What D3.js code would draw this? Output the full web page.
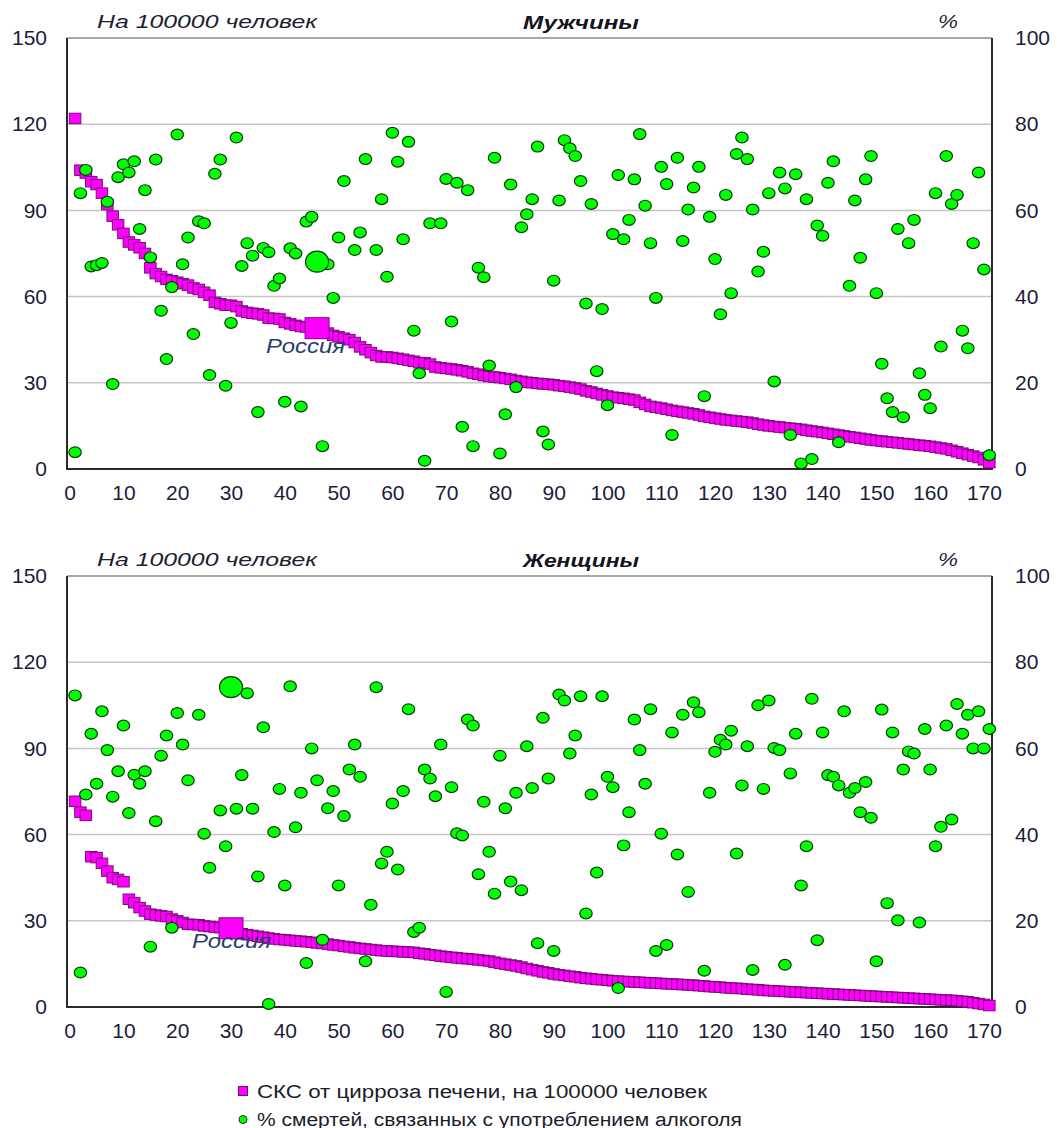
<!DOCTYPE html>
<meta charset="utf-8">
<script src="https://cdn.jsdelivr.net/npm/d3@7"></script>
<html>
<head>
<style>
body { margin: 0; background: #ffffff; }
text { font-family: Arial, "Liberation Sans", sans-serif; }
</style>
</head>
<body>
<div id="chart"></div>
<script>

// ранги стран 1..171, отсортированы по СКС
var ranks = d3.range(1, 172);

// Мужчины: СКС от цирроза печени, на 100000 человек
var menCirrhosis = [122,104,103,100,99,96,92,88,85,82,
  79,78,77,75,70,68,67,66,65.5,65,
  64.5,64,63,62.5,61.5,60.5,58,57.5,57,57,
  56.5,55,54.5,54.2,54,53.6,52.5,52.4,52.2,51,
  50.5,50,49.6,49.4,49.2,49,47.8,47.3,46.5,46,
  45.5,45,44,42.5,41.5,40.5,39.5,39,39,38.8,
  38.5,38.2,37.8,37.5,37,37,36.5,35.5,35.2,35,
  34.8,34.5,34.2,33.8,33.3,33,32.5,32.2,32,31.8,
  31.5,31.2,30.8,30.5,30.2,30,29.8,29.6,29.5,29.3,
  29,28.8,28.5,28.2,27.8,27.2,26.8,26.3,25.8,25.4,
  25,24.8,24.6,24.3,24,23.2,22.5,21.8,21.5,21.2,
  20.8,20.4,20.1,19.8,19.5,19.2,18.8,18.3,18,17.7,
  17.4,17.1,16.9,16.7,16.5,16.3,16,15.6,15.3,15,
  14.8,14.6,14.4,14.2,14,13.8,13.5,13.2,13,12.7,
  12.4,12.1,11.8,11.5,11.2,11,10.7,10.4,10.1,9.9,
  9.7,9.5,9.3,9.1,8.9,8.7,8.5,8.3,8.1,7.9,
  7.6,7.3,7,6.5,6,5.5,5,4.5,4,3.2,2.2];

// Мужчины: % смертей, связанных с употреблением алкоголя
var menAlcohol = [3.9,64,69.4,47,47.3,47.8,62,19.7,67.7,70.7,
  68.8,71.4,55.7,64.7,49.1,71.8,36.7,25.5,42.2,77.6,
  47.5,53.7,31.3,57.5,57,21.8,68.5,71.8,19.3,33.9,
  76.9,47.1,52.4,49.5,13.2,51.3,50.3,42.5,44.2,15.6,
  51.2,50,14.5,57.4,58.5,48.1,5.3,47.5,39.7,53.7,
  66.8,null,50.8,54.9,71.9,null,50.8,62.6,44.6,78,
  71.3,53.3,75.9,32.1,22.2,1.9,57,null,57,67.3,
  34.2,66.4,9.8,64.7,5.3,46.7,44.5,24,72.2,3.6,
  12.7,66,19,56.1,59.1,62.6,74.8,8.7,5.7,43.7,
  62.3,76.3,74.4,72.6,66.8,38.4,61.5,22.7,37.1,14.8,
  54.5,68.2,53.3,57.8,67.2,77.7,61.1,52.4,39.7,70.1,
  66.1,7.9,72.2,52.9,60.2,65.3,70.1,16.9,58.5,48.7,
  35.9,63.6,40.8,73.1,76.9,71.9,60.2,45.8,50.4,64,
  20.3,68.8,65.1,7.9,68.4,1.3,62.6,2.3,56.5,54.1,
  66.4,71.4,6.2,null,42.5,62.3,49,67.2,72.6,40.8,
  24.4,16.4,13.2,55.7,12,52.4,57.8,22.2,17.2,14.1,
  64,28.4,72.6,61.5,63.6,32.1,28,52.4,68.8,46.3,3.2];

// Женщины: СКС от цирроза печени, на 100000 человек
var womenCirrhosis = [71.6,67.8,66.7,52.3,52,50,47.3,45,44.4,43.6,
  37.5,36.3,34.6,33.4,32.3,32,31.7,31.5,30.6,30,
  29.4,28.8,28.7,28.6,28.2,28,27.8,27.6,27.5,27.4,
  25.8,25.5,25.2,24.9,24.6,24.3,24,23.7,23.5,23.4,
  23.2,23,22.9,22.7,22.5,22.3,22.1,21.9,21.6,21.4,
  21.1,20.9,20.6,20.4,20.2,20,19.8,19.6,19.5,19.4,
  19.3,19.2,19.1,19,18.7,18.5,18.2,18,17.7,17.5,
  17.3,17.1,16.9,16.8,16.6,16.4,16.2,16,15.6,15.2,
  14.9,14.6,14.3,13.9,13.4,13,12.6,12.2,11.9,11.5,
  11.2,11,10.7,10.5,10.2,10,9.8,9.6,9.5,9.3,
  9.1,9,8.9,8.8,8.7,8.6,8.5,8.4,8.3,8.2,
  8.1,8,7.9,7.8,7.7,7.6,7.4,7.3,7.1,7,
  6.9,6.7,6.6,6.5,6.4,6.2,6.1,6,5.8,5.7,
  5.6,5.5,5.4,5.3,5.2,5.1,5,4.9,4.8,4.7,
  4.6,4.5,4.4,4.3,4.2,4.1,4,3.9,3.8,3.7,
  3.6,3.5,3.4,3.3,3.2,3.1,3,2.9,2.8,2.7,
  2.6,2.5,2.4,2.3,2.2,2,1.8,1.5,1.2,0.9,0.5];

// Женщины: % смертей, связанных с употреблением алкоголя
var womenAlcohol = [72.3,8,49.3,63.4,51.8,68.6,59.6,48.8,54.7,65.3,
  45,53.9,51.8,54.7,14,43.1,58.3,63,18.4,68.2,
  60.9,52.6,null,67.8,40.2,32.3,null,45.6,37.3,74.2,
  46,53.8,72.8,46,30.3,64.9,0.7,40.6,50.6,28.2,
  74.4,41.7,49.7,10.2,60,52.6,15.6,46.1,50.1,28.2,
  44.3,55.1,60.9,53.4,10.6,23.7,74.2,33.3,36,47.2,
  31.9,50.1,69.1,17.4,18.4,55.1,53,48.9,60.9,3.5,
  51,40.3,39.8,66.7,65.3,30.8,47.6,36,26.3,58.3,
  46.1,29.1,49.7,27.1,60.5,50.8,14.8,67.1,53,13,
  72.5,71.1,58.8,63,72.1,21.7,49.3,31.2,72.1,53.4,
  51,4.4,37.5,45.2,66.7,59.6,51.8,69.1,13,40.2,
  14.4,63.7,35.4,67.8,26.7,70.7,68.4,8.4,49.7,59.2,
  62,60.9,64.1,35.6,51.4,60.5,8.6,70,50.6,71.1,
  60.1,59.6,9.8,54.2,63.4,28.2,37.3,71.5,15.5,63.7,
  53.8,53.4,51.4,68.6,49.7,50.8,45.2,52.2,43.9,10.6,
  69,24.1,63.7,20.1,55.1,59.3,58.8,19.6,64.5,55.1,
  37.3,41.8,65.3,43.5,70.3,63.4,67.8,60,68.6,60,64.5];

// позиция России в каждом рейтинге
var russiaMen = 46, russiaWomen = 30;

var leftTicks = [0, 30, 60, 90, 120, 150];
var rightTicks = [0, 20, 40, 60, 80, 100];
var xTicks = [0,10,20,30,40,50,60,70,80,90,100,110,120,130,140,150,160,170];

var legendLabels = ["СКС от цирроза печени, на 100000 человек",
                    "% смертей, связанных с употреблением алкоголя"];

var width = 1057, height = 1128;
var plotLeft = 67, plotRight = 992, plotH = 431;

var svg = d3.select("#chart").append("svg")
  .attr("width", width).attr("height", height);

var x = d3.scaleLinear().domain([-0.5, 171.5]).range([plotLeft, plotRight]);

var magenta = "#ff00ff", magentaEdge = "#7a0a7a";
var green = "#00ff00", greenEdge = "#0a3a0a";
var labelColor = "#1c1c3a";

function drawPanel(top, title, cirrhosis, alcohol, russia, lblDx, lblDy) {
  var bottom = top + plotH;
  var yL = d3.scaleLinear().domain([0, 150]).range([bottom, top]);
  var yR = d3.scaleLinear().domain([0, 100]).range([bottom, top]);
  var g = svg.append("g");

  // сетка
  g.selectAll(".grid").data(leftTicks.slice(1, -1)).join("line")
    .attr("x1", plotLeft).attr("x2", plotRight)
    .attr("y1", d => yL(d)).attr("y2", d => yL(d))
    .attr("stroke", "#c6c6c6").attr("stroke-width", 1.5);

  // рамка
  g.append("line").attr("x1", plotLeft).attr("x2", plotRight)
    .attr("y1", top).attr("y2", top).attr("stroke", "#8a8a8a").attr("stroke-width", 1.5);
  g.append("path")
    .attr("d", "M" + plotLeft + "," + top + "V" + bottom + "H" + plotRight + "V" + top)
    .attr("fill", "none").attr("stroke", "#2a2a2a").attr("stroke-width", 2);

  // оси
  var axL = g.append("g").attr("transform", "translate(" + plotLeft + ",0)")
    .call(d3.axisLeft(yL).tickValues(leftTicks).tickSize(0).tickPadding(20));
  var axR = g.append("g").attr("transform", "translate(" + plotRight + ",0)")
    .call(d3.axisRight(yR).tickValues(rightTicks).tickSize(0).tickPadding(23));
  var axB = g.append("g").attr("transform", "translate(0," + bottom + ")")
    .call(d3.axisBottom(x).tickValues(xTicks).tickSize(0).tickPadding(16));
  [axL, axR, axB].forEach(function(a) {
    a.select(".domain").remove();
    a.selectAll("text").style("font-size", "21px").attr("fill", labelColor)
      .style("font-family", "Arial, 'Liberation Sans', sans-serif");
  });

  // заголовки
  g.append("text").attr("x", 97).attr("y", top - 10)
    .attr("textLength", 220).attr("lengthAdjust", "spacingAndGlyphs")
    .style("font-size", "18.5px").style("font-style", "italic")
    .attr("fill", "#1e1e30").text("На 100000 человек");
  g.append("text").attr("x", 523).attr("y", top - 9)
    .attr("textLength", 116).attr("lengthAdjust", "spacingAndGlyphs")
    .style("font-size", "18.5px").style("font-style", "italic").style("font-weight", "bold")
    .attr("fill", "#141420").text(title);
  g.append("text").attr("x", 938).attr("y", top - 10)
    .attr("textLength", 20).attr("lengthAdjust", "spacingAndGlyphs")
    .style("font-size", "18.5px").style("font-style", "italic")
    .attr("fill", "#1e1e30").text("%");

  // квадраты: СКС
  var sq = cirrhosis.map((v, i) => ({r: ranks[i], v: v}));
  g.selectAll(".sq").data(sq).join("rect")
    .attr("x", d => x(d.r) - 5.75).attr("y", d => yL(d.v) - 5.25)
    .attr("width", 11.5).attr("height", 10.5)
    .attr("fill", magenta).attr("stroke", magentaEdge).attr("stroke-width", 1);

  // кружки: % смертей
  var ci = alcohol.map((v, i) => ({r: ranks[i], v: v})).filter(d => d.v !== null);
  g.selectAll(".ci").data(ci).join("ellipse")
    .attr("cx", d => x(d.r)).attr("cy", d => yR(d.v))
    .attr("rx", 6.2).attr("ry", 5.4)
    .attr("fill", green).attr("stroke", greenEdge).attr("stroke-width", 1.2);

  // Россия
  var rx = x(russia), rv = cirrhosis[russia - 1], ra = alcohol[russia - 1];
  g.append("rect").attr("x", rx - 12).attr("y", yL(rv) - 10.5)
    .attr("width", 24).attr("height", 21)
    .attr("fill", magenta).attr("stroke", magentaEdge).attr("stroke-width", 1);
  g.append("ellipse").attr("cx", rx).attr("cy", yR(ra))
    .attr("rx", 11.5).attr("ry", 10.5)
    .attr("fill", green).attr("stroke", greenEdge).attr("stroke-width", 1.2);
  g.append("text").attr("x", rx + lblDx).attr("y", yL(rv) + lblDy)
    .attr("textLength", 79).attr("lengthAdjust", "spacingAndGlyphs")
    .style("font-size", "21px").style("font-style", "italic")
    .attr("fill", "#26406a").text("Россия");
}

drawPanel(38, "Мужчины", menCirrhosis, menAlcohol, russiaMen, -51, 25);
drawPanel(576, "Женщины", womenCirrhosis, womenAlcohol, russiaWomen, -39, 20);

// легенда
var leg = svg.append("g");
leg.append("rect").attr("x", 238.5).attr("y", 1086.5).attr("width", 9).attr("height", 9)
  .attr("fill", magenta).attr("stroke", magentaEdge).attr("stroke-width", 1);
leg.append("circle").attr("cx", 243).attr("cy", 1119.5).attr("r", 4)
  .attr("fill", green).attr("stroke", greenEdge).attr("stroke-width", 1);
leg.selectAll(".lt").data(legendLabels).join("text")
  .attr("x", 257).attr("y", (d, i) => 1097.5 + i * 28)
  .attr("textLength", (d, i) => i === 0 ? 450 : 485).attr("lengthAdjust", "spacingAndGlyphs")
  .style("font-size", "18px").attr("fill", "#1c1c2c")
  .text(d => d);

</script>
</body>
</html>
